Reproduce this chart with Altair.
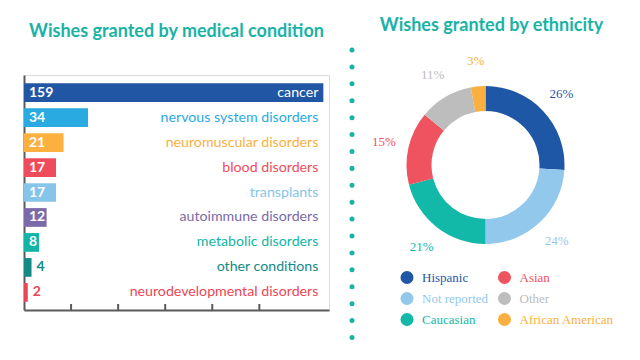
import json
import altair as alt
import pandas as pd

# ---------------- data ----------------
conditions = [
    "cancer",
    "nervous system disorders",
    "neuromuscular disorders",
    "blood disorders",
    "transplants",
    "autoimmune disorders",
    "metabolic disorders",
    "other conditions",
    "neurodevelopmental disorders",
]
counts = [159, 34, 21, 17, 17, 12, 8, 4, 2]
condition_colors = [
    "#2156a5", "#29abe2", "#fbb040", "#ef4c5b", "#86c5ea",
    "#7a6aa8", "#12b5a5", "#138a85", "#ec4655",
]
tick_values = [25, 50, 75, 100, 125]

ethnicities = ["Hispanic", "Not reported", "Caucasian", "Asian", "Other", "African American"]
shares = [26, 24, 21, 15, 11, 3]
ethnicity_colors = ["#1f57a7", "#92c8ec", "#12b8a8", "#ef5360", "#bdbdbd", "#f9b040"]

TEAL = "#19b3a6"
AXIS = "#5a5a5a"
TITLE_STYLE = dict(font="Lato", fontSize=18, fontWeight="bold", color=TEAL,
                   anchor="middle", frame="group")

# ---------------- left: bar chart ----------------
bars_df = pd.DataFrame({"condition": conditions, "count": counts})
ticks_df = pd.DataFrame({"t": tick_values})
one_df = pd.DataFrame({"d": [0]})

W1, H1 = 305, 235

xs = alt.Scale(domain=[0, 162], nice=False)
ys = alt.Scale(paddingInner=0.25, paddingOuter=0.33)
cond_scale = alt.Scale(domain=conditions, range=condition_colors)

y_enc = alt.Y("condition:N", sort=conditions, scale=ys,
              axis=alt.Axis(labels=False, ticks=False, title=None, grid=False,
                            domainColor=AXIS, domainWidth=2))
x_enc = alt.X("count:Q", scale=xs,
              axis=alt.Axis(labels=False, ticks=False, title=None, grid=False,
                            domainColor=AXIS, domainWidth=2))

base = alt.Chart(bars_df)

bars = base.mark_bar().encode(
    x=x_enc, y=y_enc,
    color=alt.Color("condition:N", scale=cond_scale, legend=None),
)

inside = base.transform_filter("datum.count >= 8").mark_text(
    align="left", baseline="middle", dx=5, color="white",
    font="Lato", fontWeight="bold", fontSize=14,
).encode(x=alt.datum(0), y=y_enc, text="count:Q")

outside = base.transform_filter("datum.count < 8").mark_text(
    align="left", baseline="middle", dx=5,
    font="Lato", fontWeight="bold", fontSize=14,
).encode(x="count:Q", y=y_enc, text="count:Q",
         color=alt.Color("condition:N", scale=cond_scale, legend=None))

names = base.transform_joinaggregate(maxc="max(count)").mark_text(
    align="right", baseline="middle", dx=-5,
    font="Lato", fontSize=14.2,
).encode(
    x="maxc:Q", y=y_enc, text="condition:N",
    color=alt.condition("datum.count == datum.maxc", alt.value("white"),
                        alt.Color("condition:N", scale=cond_scale, legend=None)),
)

tick_marks = alt.Chart(ticks_df).mark_rule(color=AXIS, strokeWidth=2).encode(
    x="t:Q", y=alt.value(H1 - 6), y2=alt.value(H1)
)

dots = alt.Chart(one_df).mark_rule(
    color=TEAL, strokeWidth=5, strokeCap="round", strokeDash=[0.01, 16.9]
).encode(x=alt.value(328), y=alt.value(-25), y2=alt.value(267))

left = alt.layer(bars, inside, outside, names, tick_marks, dots).properties(
    width=W1, height=H1,
    title=alt.TitleParams("Wishes granted by medical condition", offset=7, **TITLE_STYLE),
)

# ---------------- right: donut ----------------
eth_df = pd.DataFrame({
    "ethnicity": ethnicities,
    "share": shares,
    "idx": list(range(len(ethnicities))),
    "label": [f"{s}%" for s in shares],
})
eth_color_map = dict(zip(ethnicities, ethnicity_colors))
eth_scale = alt.Scale(domain=ethnicities, range=ethnicity_colors)
label_color_expr = json.dumps(eth_color_map) + "[datum.value]"

theta = alt.Theta("share:Q", stack=True)
order = alt.Order("idx:Q")

arc = alt.Chart(eth_df).mark_arc(innerRadius=54, outerRadius=79).encode(
    theta=theta, order=order,
    color=alt.Color("ethnicity:N", scale=eth_scale, legend=alt.Legend(
        title=None, orient="none", legendX=-10.5, legendY=195.5,
        columns=2, symbolType="circle", symbolSize=170, symbolStrokeWidth=0,
        labelFont="Liberation Serif", labelFontSize=13, labelOffset=8,
        columnPadding=8.5, rowPadding=7,
        labelColor=alt.ExprRef(expr=label_color_expr),
    )),
)

pct = alt.Chart(eth_df).mark_text(
    radius=104, font="Liberation Serif", fontSize=13, baseline="middle", align="center"
).encode(
    theta=theta, order=order, text="label:N",
    color=alt.Color("ethnicity:N", scale=eth_scale, legend=None),
)

right = alt.layer(arc, pct).properties(
    width=150, height=180,
    title=alt.TitleParams("Wishes granted by ethnicity", offset=20, dx=6, **TITLE_STYLE),
)

chart = alt.hconcat(left, right, spacing=16.5).resolve_scale(
    color="independent"
).properties(
    padding={"left": 15, "top": 9, "right": 5, "bottom": 5}
).configure_view(stroke=None).configure(font="Lato")

chart.save("out.html", embed_options={"renderer": "svg", "actions": False})
